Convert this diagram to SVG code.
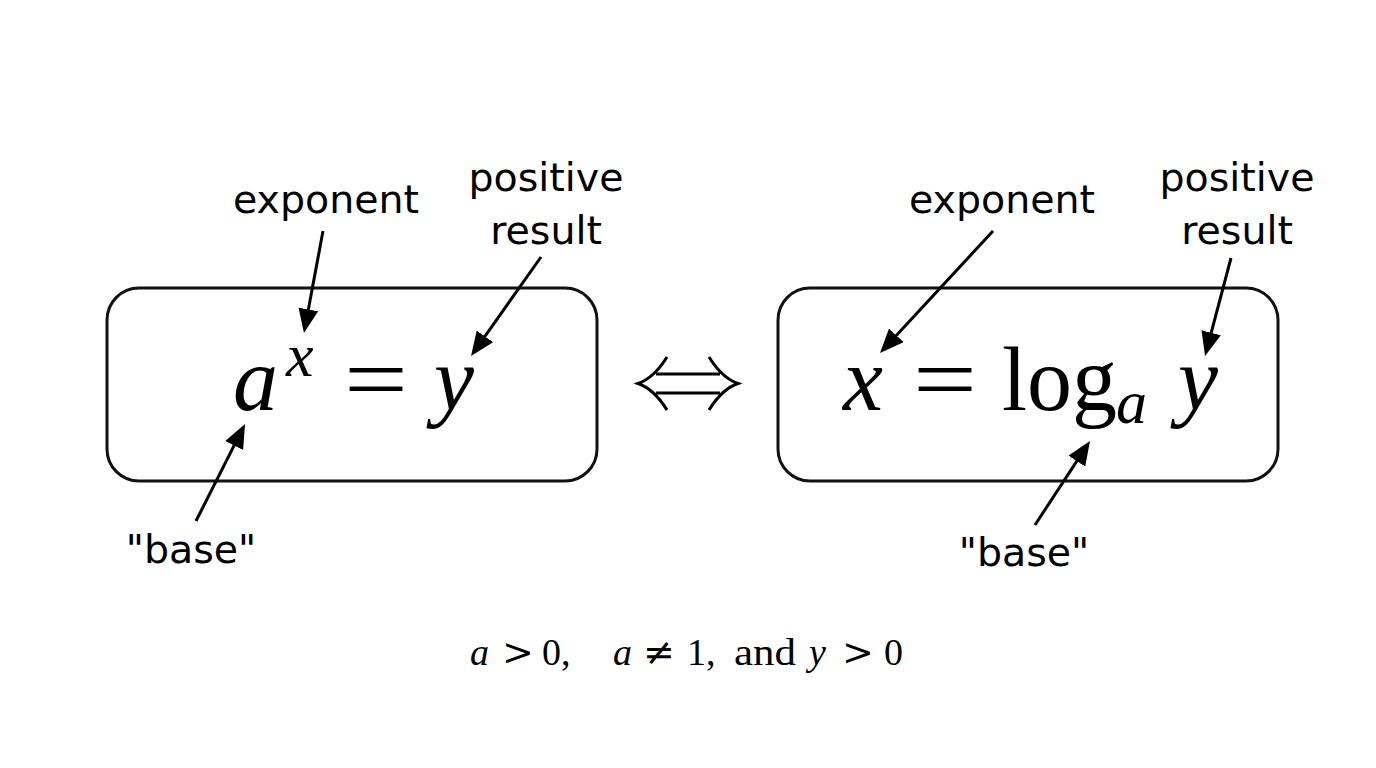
<svg xmlns="http://www.w3.org/2000/svg" width="1376" height="768" viewBox="0 0 1376 768">
<defs>
<style>
.box{fill:#fff;stroke:#111;stroke-width:3}
.lbl{font-family:"DejaVu Sans","Liberation Sans",sans-serif;font-size:39.5px;fill:#000;text-anchor:middle}
.m{font-family:"Liberation Serif","DejaVu Serif",serif;fill:#000}
.it{font-style:italic}
.op{font-family:"DejaVu Serif","Liberation Serif",serif;font-size:38px}
.arr{fill:none;stroke:#000;stroke-width:3}
</style>
<marker id="ah" viewBox="0 0 24 20" refX="14" refY="10" markerWidth="24" markerHeight="20" markerUnits="userSpaceOnUse" orient="auto">
<path d="M0,0 L24,10 L0,20 z" fill="#000"/>
</marker>
</defs>
<rect width="1376" height="768" fill="#fff"/>
<g id="node-left">
<rect class="box" x="107" y="288" width="490" height="193" rx="32"/>
<text class="m it" x="233" y="410" font-size="90">a</text>
<text class="m it" x="286" y="376" font-size="62">x</text>
<text class="m" x="344" y="410" font-size="90" textLength="64" lengthAdjust="spacingAndGlyphs">=</text>
<text class="m it" x="434" y="410" font-size="90">y</text>
</g>
<g id="node-right">
<rect class="box" x="778" y="288" width="500" height="193" rx="32"/>
<text class="m it" x="843" y="410" font-size="90">x</text>
<text class="m" x="913" y="410" font-size="90" textLength="64" lengthAdjust="spacingAndGlyphs">=</text>
<text class="m" x="1002" y="410" font-size="90">log</text>
<text class="m it" x="1116" y="423" font-size="62">a</text>
<text class="m it" x="1178" y="410" font-size="90">y</text>
</g>
<g id="label-exp-left"><text class="lbl" x="326" y="213">exponent</text></g>
<g id="label-res-left"><text class="lbl" x="546" y="191">positive</text><text class="lbl" x="546" y="244">result</text></g>
<g id="label-base-left"><text class="lbl" x="191" y="563">"base"</text></g>
<g id="label-exp-right"><text class="lbl" x="1002" y="213">exponent</text></g>
<g id="label-res-right"><text class="lbl" x="1237" y="191">positive</text><text class="lbl" x="1237" y="244">result</text></g>
<g id="label-base-right"><text class="lbl" x="1024" y="566">"base"</text></g>
<g id="condition">
<text class="m" y="665" font-size="38"><tspan class="it" x="470">a</tspan><tspan class="op" x="502">&gt;</tspan><tspan x="542">0,</tspan><tspan class="it" x="613">a</tspan><tspan class="op" x="643">≠</tspan><tspan x="687">1,</tspan><tspan x="734" textLength="62" lengthAdjust="spacingAndGlyphs">and</tspan><tspan class="it" x="809">y</tspan><tspan class="op" x="842">&gt;</tspan><tspan x="884">0</tspan></text>
</g>
<g id="connectors">
<path class="arr" marker-end="url(#ah)" d="M323,231 L305.8,323.2"/>
<path class="arr" marker-end="url(#ah)" d="M541,257 L476.8,347.8"/>
<path class="arr" marker-end="url(#ah)" d="M196,521 L240.5,432.9"/>
<path class="arr" marker-end="url(#ah)" d="M993,231 L886.8,345.7"/>
<path class="arr" marker-end="url(#ah)" d="M1231,258 L1207.6,346.3"/>
<path class="arr" marker-end="url(#ah)" d="M1035,525 L1084.5,449.4"/>
<g id="iff" fill="none" stroke="#000" stroke-width="3">
<path d="M656,374 H720 M656,393 H720"/>
<path d="M667,357 Q654,378 638,383.5 Q654,389 667,410"/>
<path d="M709,357 Q722,378 738,383.5 Q722,389 709,410"/>
</g>
</g>
</svg>
